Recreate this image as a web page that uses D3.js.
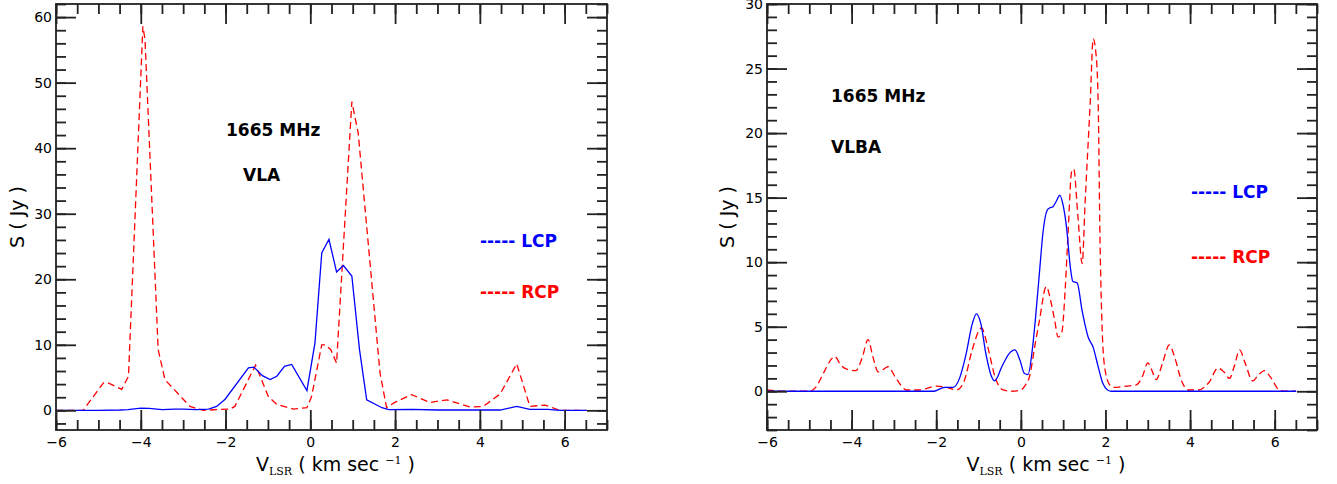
<!DOCTYPE html>
<html>
<head>
<meta charset="utf-8">
<script src="https://cdn.jsdelivr.net/npm/d3@7"></script>
<style>
  html, body { margin: 0; padding: 0; background: #fff; }
  svg { display: block; }
  text { font-family: "DejaVu Sans", sans-serif; }
</style>
</head>
<body>
<svg id="chart" width="1337" height="484"></svg>
<script>
// 1665 MHz OH maser spectra: VLA (left) and VLBA (right), LCP and RCP.
// Each series is a list of [velocity (km/s), flux density (Jy)] samples.

const vlaLCP = [
  [-6, 0], [-5.5, 0], [-5, 0], [-4.5, 0.05], [-4.3, 0.1], [-4.0, 0.35], [-3.8, 0.3],
  [-3.5, 0.1], [-3.2, 0.2], [-3.0, 0.2], [-2.7, 0.1], [-2.4, 0.2], [-2.21, 0.6],
  [-2.01, 1.7], [-1.46, 6.5], [-1.33, 6.6], [-1.13, 5.3], [-0.95, 4.7], [-0.79, 5.2],
  [-0.61, 6.7], [-0.44, 7.0], [-0.08, 3.0], [0.11, 10.3], [0.27, 24.0], [0.44, 26.1],
  [0.62, 21.1], [0.78, 22.1], [0.98, 20.5], [1.16, 9.3], [1.33, 1.6], [1.69, 0.4],
  [1.85, 0.1], [2.4, 0.15], [3.0, 0.05], [4.48, 0.05], [4.87, 0.6], [5.18, 0.15],
  [5.6, 0.15], [5.9, 0], [6.52, 0]
];

const vlaRCP = [
  [-6, 0], [-5.36, 0], [-4.88, 4.2], [-4.77, 4.2], [-4.45, 3.2], [-4.29, 5.2],
  [-3.95, 58.6], [-3.9, 56.6], [-3.59, 9.3], [-3.43, 4.7], [-3.36, 4.2], [-2.84, 0.6],
  [-2.53, 0], [-1.89, 0.2], [-1.78, 0.6], [-1.29, 6.9], [-0.99, 2.1], [-0.79, 0.9],
  [-0.4, 0.2], [-0.08, 0.4], [0.03, 2.1], [0.27, 10.0], [0.35, 10.0], [0.48, 9.3],
  [0.62, 7.2], [0.98, 47.1], [1.13, 42.3], [1.645, 5.7], [1.80, 0.4], [1.96, 1.1],
  [2.39, 2.4], [2.82, 1.2], [3.22, 1.6], [3.77, 0.5], [4.08, 0.6], [4.48, 2.5],
  [4.87, 7.1], [5.18, 0.6], [5.54, 0.8], [5.89, 0], [6.52, 0]
];

const vlbaLCP = [
  [-6, 0], [-4, 0], [-2.07, 0], [-1.9, 0.2], [-1.8, 0.3], [-1.6, 0.3], [-1.45, 1.0],
  [-1.3, 2.8], [-1.15, 5.2], [-1.05, 6.0], [-0.95, 5.3], [-0.82, 2.8], [-0.7, 1.2],
  [-0.62, 0.8], [-0.45, 1.9], [-0.28, 2.9], [-0.14, 3.2], [-0.02, 2.4], [0.08, 1.4],
  [0.17, 1.3], [0.27, 3.2], [0.35, 5.8], [0.45, 9.6], [0.52, 12.2], [0.62, 14.0],
  [0.68, 14.2], [0.76, 14.3], [0.85, 14.8], [0.92, 15.2], [1.0, 14.4], [1.08, 12.7],
  [1.17, 9.6], [1.23, 8.5], [1.33, 8.4], [1.45, 6.2], [1.59, 4.2], [1.71, 3.4],
  [1.82, 2.0], [1.94, 0.6], [2.05, 0.1], [2.14, 0], [4, 0], [6.51, 0]
];

const vlbaRCP = [
  [-6, 0.1], [-5.5, 0], [-5.0, 0], [-4.85, 0.3], [-4.65, 1.5], [-4.5, 2.4], [-4.4, 2.7],
  [-4.25, 2.0], [-4.1, 1.7], [-3.9, 1.6], [-3.75, 2.6], [-3.61, 4.0], [-3.5, 2.7],
  [-3.37, 1.5], [-3.25, 1.7], [-3.14, 1.9], [-2.95, 1.0], [-2.7, 0.1], [-2.4, 0.1],
  [-2.0, 0.4], [-1.75, 0.3], [-1.52, 0.1], [-1.35, 0.7], [-1.15, 3.2], [-0.93, 4.9],
  [-0.78, 3.4], [-0.6, 1.0], [-0.42, 0.1], [-0.22, 0], [0.0, 0.1], [0.09, 0.4],
  [0.21, 1.2], [0.33, 3.5], [0.44, 5.5], [0.6, 8.1], [0.72, 6.8], [0.8, 5.5],
  [0.88, 4.2], [0.97, 4.6], [1.05, 8.0], [1.12, 12.5], [1.2, 17.0], [1.25, 17.2],
  [1.35, 13.5], [1.45, 9.9], [1.52, 14.7], [1.64, 22.4], [1.71, 27.3], [1.78, 26.0],
  [1.83, 22.0], [1.87, 12.0], [1.92, 5.0], [1.98, 1.9], [2.1, 0.5], [2.2, 0.3],
  [2.49, 0.4], [2.73, 0.5], [2.88, 1.2], [3.0, 2.2], [3.1, 1.6], [3.2, 0.9],
  [3.35, 2.2], [3.51, 3.6], [3.62, 2.8], [3.8, 0.8], [3.95, 0.1], [4.2, 0.1],
  [4.45, 0.7], [4.66, 1.8], [4.8, 1.5], [4.93, 1.0], [5.05, 2.0], [5.17, 3.2],
  [5.3, 2.2], [5.48, 0.8], [5.6, 1.2], [5.76, 1.6], [5.9, 1.1], [6.11, 0.1],
  [6.3, 0], [6.5, 0]
];

// Axis ranges and tick values
const velDomain = [-6, 7];
const velMajor = [-6, -4, -2, 0, 2, 4, 6];
const velMinor = d3.range(-6, 7.01, 0.5);
const vlaFluxDomain = [-3, 62];
const vlaFluxMajor = [0, 10, 20, 30, 40, 50, 60];
const vlaFluxMinor = d3.range(-2, 62.1, 2);
const vlbaFluxDomain = [-3, 30];
const vlbaFluxMajor = [0, 5, 10, 15, 20, 25, 30];
const vlbaFluxMinor = d3.range(-3, 30.1, 1);

const svg = d3.select("#chart");

function drawPanel(opt) {
  const { left, right, top, bottom } = opt.box;
  const x = d3.scaleLinear().domain(velDomain).range([left, right]);
  const y = d3.scaleLinear().domain(opt.fluxDomain).range([bottom, top]);
  const g = svg.append("g");

  // Data lines, clipped to the frame
  const clipId = "clip-" + opt.id;
  svg.append("clipPath").attr("id", clipId)
    .append("rect").attr("x", left).attr("y", top)
    .attr("width", right - left).attr("height", bottom - top);

  const line = d3.line().x(d => x(d[0])).y(d => y(d[1])).curve(opt.curve);
  const lines = g.append("g").attr("clip-path", `url(#${clipId})`);
  lines.append("path").datum(opt.rcp)
    .attr("fill", "none").attr("stroke", "#ff0000").attr("stroke-width", 1.3)
    .attr("stroke-dasharray", "7,4").attr("d", line);
  lines.append("path").datum(opt.lcp)
    .attr("fill", "none").attr("stroke", "#0000ff").attr("stroke-width", 1.3)
    .attr("d", line);

  const tickStyle = sel => {
    sel.select(".domain").remove();
    sel.selectAll(".tick line").attr("stroke", "#222").attr("stroke-width", 1.8);
    sel.selectAll(".tick text").attr("fill", "#000")
      .style("font-family", "DejaVu Sans, sans-serif").style("font-size", "14px");
  };

  // Minor ticks on all four sides
  g.append("g").attr("transform", `translate(0,${bottom})`)
    .call(d3.axisBottom(x).tickValues(velMinor).tickSize(-10).tickFormat(""))
    .call(tickStyle);
  g.append("g").attr("transform", `translate(0,${top})`)
    .call(d3.axisTop(x).tickValues(velMinor).tickSize(-10).tickFormat(""))
    .call(tickStyle);
  g.append("g").attr("transform", `translate(${left},0)`)
    .call(d3.axisLeft(y).tickValues(opt.fluxMinor).tickSize(-10).tickFormat(""))
    .call(tickStyle);
  g.append("g").attr("transform", `translate(${right},0)`)
    .call(d3.axisRight(y).tickValues(opt.fluxMinor).tickSize(-10).tickFormat(""))
    .call(tickStyle);

  // Major ticks with labels on bottom and left
  g.append("g").attr("transform", `translate(0,${bottom})`)
    .call(d3.axisBottom(x).tickValues(velMajor).tickSize(-20).tickPadding(7))
    .call(tickStyle);
  g.append("g").attr("transform", `translate(0,${top})`)
    .call(d3.axisTop(x).tickValues(velMajor).tickSize(-20).tickFormat(""))
    .call(tickStyle);
  g.append("g").attr("transform", `translate(${left},0)`)
    .call(d3.axisLeft(y).tickValues(opt.fluxMajor).tickSize(-20).tickPadding(4))
    .call(tickStyle);
  g.append("g").attr("transform", `translate(${right},0)`)
    .call(d3.axisRight(y).tickValues(opt.fluxMajor).tickSize(-20).tickFormat(""))
    .call(tickStyle);

  // Frame
  g.append("rect").attr("x", left).attr("y", top)
    .attr("width", right - left).attr("height", bottom - top)
    .attr("fill", "none").attr("stroke", "#222").attr("stroke-width", 1.8);

  // Axis titles
  const xt = g.append("text").attr("x", (left + right) / 2 + 4).attr("y", 471)
    .attr("text-anchor", "middle").style("font-size", "19px").attr("fill", "#000");
  xt.append("tspan").text("V");
  xt.append("tspan").text("LSR").attr("dy", 4)
    .style("font-family", "DejaVu Serif, serif").style("font-size", "11px");
  xt.append("tspan").text(" ( km sec ").attr("dy", -4);
  xt.append("tspan").text("\u22121").attr("dy", -7)
    .style("font-family", "DejaVu Serif, serif").style("font-size", "11px");
  xt.append("tspan").text(" )").attr("dy", 7);

  g.append("text")
    .attr("transform", `translate(${opt.yTitleX},${(top + bottom) / 2}) rotate(-90)`)
    .attr("text-anchor", "middle").style("font-size", "19px").attr("fill", "#000")
    .text("S ( Jy )");

  // Annotations
  opt.notes.forEach(n => {
    g.append("text").attr("x", n.x).attr("y", n.y)
      .style("font-size", "17px").style("font-weight", "bold").attr("fill", "#000")
      .text(n.text);
  });

  // Legend
  opt.legend.forEach(l => {
    g.append("text").attr("x", l.x).attr("y", l.y)
      .style("font-size", "17px").style("font-weight", "bold").attr("fill", l.color)
      .text("----- " + l.text);
  });
}

drawPanel({
  id: "vla",
  box: { left: 56, right: 607, top: 4, bottom: 430 },
  fluxDomain: vlaFluxDomain, fluxMajor: vlaFluxMajor, fluxMinor: vlaFluxMinor,
  lcp: vlaLCP, rcp: vlaRCP, curve: d3.curveLinear,
  yTitleX: 24,
  notes: [{ text: "1665 MHz", x: 226, y: 136 }, { text: "VLA", x: 243, y: 181 }],
  legend: [
    { text: "LCP", color: "#0000ff", x: 480, y: 247 },
    { text: "RCP", color: "#ff0000", x: 480, y: 298 }
  ]
});

drawPanel({
  id: "vlba",
  box: { left: 767, right: 1317, top: 4, bottom: 430 },
  fluxDomain: vlbaFluxDomain, fluxMajor: vlbaFluxMajor, fluxMinor: vlbaFluxMinor,
  lcp: vlbaLCP, rcp: vlbaRCP, curve: d3.curveMonotoneX,
  yTitleX: 734,
  notes: [{ text: "1665 MHz", x: 831, y: 102 }, { text: "VLBA", x: 831, y: 153 }],
  legend: [
    { text: "LCP", color: "#0000ff", x: 1191, y: 198 },
    { text: "RCP", color: "#ff0000", x: 1191, y: 263 }
  ]
});
</script>
</body>
</html>
